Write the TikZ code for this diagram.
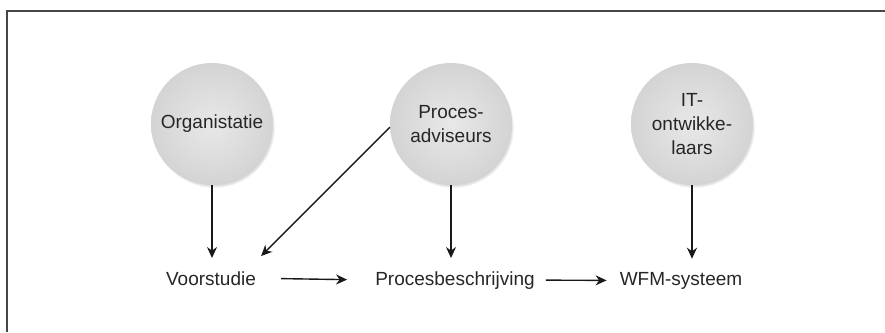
\documentclass[tikz,border=0pt]{standalone}
\usepackage{fontspec}
\setmainfont{Liberation Sans}
\usetikzlibrary{arrows.meta,shadows}
\begin{document}
\begin{tikzpicture}[x=1pt,y=-1pt,
  txt/.style={text=black!85, font=\fontsize{19}{24}\selectfont},
  actor/.style={txt, circle, minimum size=122pt, inner sep=0pt, align=center,
    shading=radial, inner color=black!9, outer color=black!17,
    circular drop shadow={shadow scale=1.0, shadow xshift=2pt, shadow yshift=-3pt,
      opacity=0.5, fill=black!75}},
  stage/.style={txt, inner xsep=0pt, inner ysep=13pt, anchor=base},
  flow/.style={line width=1.4pt, draw=black!90, -{Stealth[length=11pt,width=10pt]}},
  frame/.style={line width=2pt, draw=black!72}]
\useasboundingbox (0,0) rectangle (885,332);

% open frame: top and left edges only
\draw[frame] (885,10.5) -- (6.5,10.5) -- (6.5,332);

% actors
\node[actor] (org) at (212,124) {Organistatie};
\node[actor] (adv) at (451,124) {Proces-\\adviseurs};
\node[actor] (itd) at (692,124) {IT-\\ontwikke-\\laars};

% stages
\node[stage] (voor) at (211,285) {Voorstudie};
\node[stage] (proc) at (455,285) {Procesbeschrijving};
\node[stage] (wfm)  at (681,285) {WFM-systeem};

% actor inputs
\draw[flow] (org.south) -- (org.south |- voor.north);
\draw[flow] (adv.south) -- (adv.south |- proc.north);
\draw[flow] (itd.south) -- (itd.south |- wfm.north);
\coordinate (vtip) at ([xshift=5pt,yshift=2pt]voor.north east);
\draw[flow] (adv.183) -- (vtip);

% stage sequence
\draw[flow, shorten <=25pt, shorten >=28pt] (voor.east) -- (proc.west);
\draw[flow, shorten <=11pt, shorten >=13pt] (proc.east) -- (wfm.west);
\end{tikzpicture}
\end{document}
